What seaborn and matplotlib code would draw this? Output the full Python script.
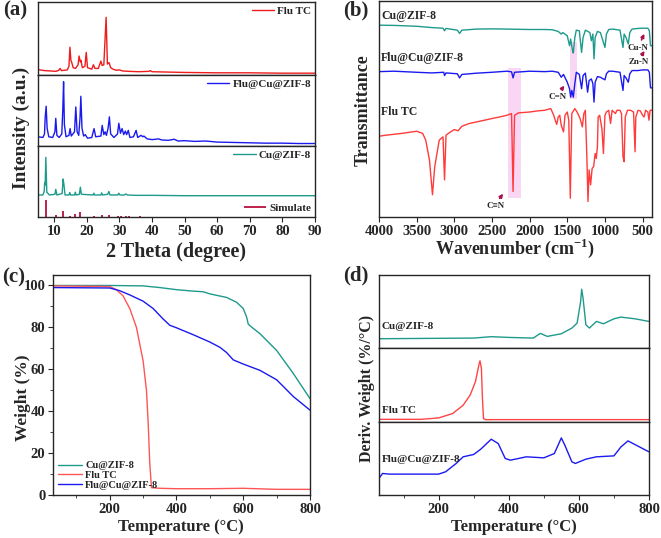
import matplotlib
matplotlib.use("Agg")
import matplotlib.pyplot as plt
import seaborn as sns
from matplotlib.ticker import MultipleLocator

# ---------------- data ----------------
# (a) XRD, intensities in fractions of each stacked panel
xrd_flu_x = [5.0, 7, 9, 10.5, 11.4, 11.8, 12.2, 14.0, 14.5, 14.8, 15.1, 15.3, 15.8, 16.5, 17.3, 17.6, 18.0,
             18.2, 18.6, 19.4, 19.8, 20.2, 21.5, 22.0, 22.5, 23.5, 24.3, 24.7, 25.2, 25.9, 26.3, 26.8, 27.3,
             28, 29, 30, 31, 33, 36, 39, 39.5, 40, 45, 50, 60, 70, 80, 90]
xrd_flu_y = [0.075, 0.06, 0.055, 0.05, 0.065, 0.09, 0.06, 0.07, 0.12, 0.38, 0.2, 0.18, 0.1, 0.09, 0.14, 0.26,
             0.18, 0.20, 0.1, 0.12, 0.31, 0.1, 0.08, 0.14, 0.09, 0.09, 0.19, 0.13, 0.14, 0.79, 0.15, 0.17, 0.1,
             0.08, 0.065, 0.07, 0.055, 0.05, 0.045, 0.05, 0.06, 0.045, 0.04, 0.035, 0.03, 0.03, 0.025, 0.025]

xrd_fcz_x = [5.0, 6.5, 7.0, 7.2, 7.5, 7.8, 8.3, 9.5, 10.2, 10.45, 10.8, 11.5, 12.3, 12.6, 12.85, 13.1, 13.6,
             14.5, 14.85, 15.2, 16.2, 16.6, 17.0, 17.5, 17.9, 18.15, 18.5, 19.0, 19.5, 20.2, 21.5, 22.2, 22.7,
             24.3, 24.7, 25.2, 25.6, 26.0, 26.5, 26.9, 27.3, 28.3, 29.4, 29.8, 30.3, 30.8, 31.3, 31.8, 32.2,
             32.7, 33.2, 34.3, 35.1, 35.6, 36.6, 37.2, 37.5, 38.5, 40, 42, 43, 45, 46.8, 48, 50, 53, 56.5, 60,
             65, 70, 75, 80, 85, 90]
xrd_fcz_y = [0.13, 0.12, 0.17, 0.4, 0.56, 0.25, 0.13, 0.12, 0.2, 0.39, 0.15, 0.12, 0.17, 0.5, 0.905, 0.3, 0.13,
             0.15, 0.245, 0.14, 0.2, 0.55, 0.2, 0.15, 0.4, 0.70, 0.25, 0.14, 0.16, 0.11, 0.12, 0.245, 0.13,
             0.14, 0.29, 0.16, 0.2, 0.15, 0.25, 0.41, 0.17, 0.12, 0.17, 0.32, 0.18, 0.245, 0.16, 0.21, 0.16,
             0.22, 0.12, 0.13, 0.22, 0.12, 0.15, 0.13, 0.14, 0.1, 0.09, 0.1, 0.085, 0.08, 0.095, 0.07, 0.075,
             0.065, 0.07, 0.055, 0.05, 0.045, 0.04, 0.04, 0.035, 0.035]

xrd_cz_x = [5.0, 6.5, 6.9, 7.05, 7.2, 7.4, 7.7, 8.5, 10.2, 10.45, 10.8, 12.4, 12.7, 12.95, 13.3, 14.5, 14.75,
            15.0, 16.2, 16.45, 16.7, 17.7, 18.0, 18.3, 21.9, 22.15, 22.4, 24.3, 24.55, 24.8, 26.4, 26.75, 27.1,
            29.5, 29.8, 30.1, 31.5, 32.0, 32.4, 35, 40, 50, 60, 70, 80, 90]
xrd_cz_y = [0.31, 0.31, 0.36, 0.48, 0.45, 0.84, 0.35, 0.31, 0.32, 0.39, 0.31, 0.33, 0.535, 0.46, 0.31, 0.31,
            0.345, 0.31, 0.31, 0.35, 0.31, 0.32, 0.42, 0.32, 0.31, 0.335, 0.31, 0.31, 0.34, 0.31, 0.32, 0.36,
            0.31, 0.31, 0.335, 0.31, 0.31, 0.325, 0.31, 0.305, 0.305, 0.30, 0.30, 0.30, 0.30, 0.30]

sim_x = [7.35, 10.4, 12.7, 14.7, 16.4, 18.0, 22.1, 24.5, 26.7, 29.6, 30.5, 31.9, 32.8, 36.2]
sim_y = [0.24, 0.03, 0.08, 0.02, 0.04, 0.065, 0.02, 0.025, 0.03, 0.02, 0.015, 0.02, 0.015, 0.01]

# (b) FTIR, transmittance in arbitrary units
ir_cz_x = [4000, 3800, 3500, 3300, 3150, 3130, 3110, 2960, 2930, 2900, 2700, 2500, 2300, 2000, 1800, 1700,
           1620, 1580, 1560, 1500, 1470, 1455, 1430, 1420, 1400, 1380, 1340, 1310, 1290, 1260, 1200, 1180,
           1160, 1145, 1130, 1100, 1060, 1000, 980, 950, 900, 800, 760, 745, 720, 690, 670, 640, 560, 500,
           430, 410, 395, 375]
ir_cz_y = [88.8, 88.7, 88.3, 87.7, 87.4, 86.2, 87.3, 86.5, 85.0, 86.5, 87.0, 87.1, 87.0, 86.8, 86.8, 86.7,
           85.9, 84.7, 85.4, 83.9, 79.3, 82.4, 77.0, 75.9, 83.1, 86.5, 86.2, 76.2, 83.1, 86.5, 85.4, 81.6,
           84.7, 73.2, 83.1, 85.9, 85.4, 78.5, 84.7, 86.8, 87.0, 86.5, 78.5, 84.7, 83.1, 80.1, 85.4, 87.0,
           87.3, 87.4, 87.4, 86.2, 79.3, 79.3]

ir_fcz_x = [4000, 3800, 3500, 3300, 3140, 3130, 3110, 2960, 2930, 2900, 2700, 2500, 2300, 2240, 2220, 2200,
            2000, 1800, 1700, 1620, 1580, 1550, 1500, 1470, 1455, 1440, 1420, 1400, 1380, 1340, 1310, 1290,
            1260, 1230, 1210, 1180, 1160, 1145, 1130, 1100, 1060, 1000, 980, 950, 900, 800, 760, 745, 720,
            690, 670, 640, 560, 500, 430, 410, 395, 375]
ir_fcz_y = [67.3, 67.5, 67.0, 66.7, 67.0, 65.5, 66.7, 66.3, 64.4, 66.0, 66.6, 67.0, 67.5, 67.2, 64.4, 67.0,
            67.5, 67.3, 67.5, 67.0, 64.7, 66.0, 62.4, 59.4, 55.5, 58.6, 55.5, 61.7, 67.0, 66.0, 59.4, 65.5,
            66.6, 57.8, 63.2, 63.9, 61.7, 53.2, 62.4, 65.0, 64.7, 63.5, 66.3, 67.5, 67.5, 67.0, 58.6, 65.5,
            64.4, 62.4, 66.3, 67.8, 67.8, 68.1, 68.1, 67.0, 59.8, 59.8]

ir_flu_x = [4000, 3900, 3700, 3500, 3420, 3380, 3330, 3290, 3260, 3200, 3150, 3130, 3110, 3050, 3000, 2950,
            2900, 2800, 2600, 2500, 2400, 2300, 2240, 2220, 2200, 2150, 2000, 1900, 1800, 1720, 1680, 1660,
            1640, 1620, 1600, 1580, 1550, 1530, 1500, 1480, 1460, 1440, 1400, 1370, 1330, 1300, 1280, 1260,
            1240, 1225, 1210, 1190, 1170, 1150, 1130, 1115, 1100, 1090, 1070, 1040, 1020, 1000, 980, 950,
            925, 905, 880, 860, 840, 800, 780, 760, 745, 730, 700, 660, 620, 600, 590, 560, 530, 500, 480,
            460, 430, 415, 400, 375]
ir_flu_y = [37.4, 37.9, 38.7, 39.7, 38.7, 35.6, 26.4, 10.3, 23.3, 35.6, 37.1, 17.2, 37.9, 39.4, 40.5, 39.9,
            42.0, 43.3, 44.8, 45.6, 46.3, 47.1, 47.9, 11.8, 47.1, 48.2, 48.6, 49.1, 49.4, 50.2, 47.1, 44.8,
            42.9, 46.3, 47.1, 42.5, 39.4, 47.1, 48.6, 44.8, 8.7, 47.9, 50.2, 48.6, 45.6, 41.7, 47.9, 49.4,
            27.9, 7.2, 21.8, 14.9, 22.5, 23.3, 29.4, 27.1, 32.5, 46.3, 47.1, 40.9, 29.4, 47.1, 48.6, 49.4,
            43.3, 49.4, 48.6, 47.9, 49.4, 49.4, 47.9, 27.9, 25.6, 46.3, 49.4, 49.4, 48.6, 30.2, 46.3, 49.4,
            49.1, 47.1, 46.3, 49.4, 48.6, 44.8, 49.4, 49.4]

band_cn3 = [2290, 2110]   # pink bands: wavenumber range
band_cn3_y = [9.0, 68.9]
band_cn2 = [1470, 1365]
band_cn2_y = [54.4, 80.8]

# (c) TGA
tga_cz_t = [30, 200, 300, 350, 400, 450, 480, 500, 520, 550, 580, 600, 610, 615, 630, 650, 700, 750, 800]
tga_cz_w = [100, 100, 99.8, 99, 98, 97.3, 97, 96, 95.3, 94.3, 92, 89, 85, 81.5, 79.5, 77, 69, 58, 46]
tga_flu_t = [30, 200, 220, 240, 260, 280, 300, 310, 315, 320, 325, 350, 400, 500, 600, 700, 800]
tga_flu_w = [99.8, 99.5, 98, 95, 89, 80, 64, 50, 35, 15, 3.5, 3.2, 3.0, 3.0, 3.2, 2.7, 2.7]
tga_fcz_t = [30, 200, 230, 260, 300, 330, 360, 380, 400, 450, 500, 530, 550, 570, 600, 650, 700, 750, 800]
tga_fcz_w = [99, 98.8, 97.5, 95.5, 92.5, 89, 84, 81, 79.8, 76.5, 73, 70.5, 68, 64.5, 62.5, 59.5, 55, 47, 40.5]

# (d) DTG, fractions of each stacked panel
dtg_cz_t = [30, 300, 350, 400, 470, 490, 510, 550, 580, 595, 605, 608, 612, 620, 630, 650, 670, 700, 720, 760, 800]
dtg_cz_y = [0.127, 0.136, 0.155, 0.145, 0.136, 0.2, 0.159, 0.195, 0.273, 0.341, 0.636, 0.805, 0.682, 0.318,
            0.273, 0.364, 0.332, 0.4, 0.423, 0.4, 0.364]
dtg_flu_t = [30, 150, 200, 240, 270, 290, 305, 315, 318, 322, 325, 328, 335, 800]
dtg_flu_y = [0.036, 0.036, 0.055, 0.114, 0.227, 0.364, 0.545, 0.773, 0.827, 0.727, 0.318, 0.045, 0.032, 0.032]
dtg_fcz_t = [30, 40, 60, 200, 220, 250, 270, 300, 320, 350, 370, 390, 405, 450, 500, 530, 550, 560, 580, 590,
             620, 650, 700, 720, 740, 760, 800]
dtg_fcz_y = [0.227, 0.295, 0.286, 0.286, 0.318, 0.432, 0.523, 0.555, 0.627, 0.764, 0.705, 0.5, 0.477, 0.523,
             0.509, 0.568, 0.782, 0.682, 0.455, 0.432, 0.491, 0.523, 0.536, 0.659, 0.741, 0.691, 0.591]

# ---------------- style ----------------
sns.set_style("ticks")
plt.rcParams["font.family"] = ["Liberation Serif", "DejaVu Serif"]
plt.rcParams["font.weight"] = "bold"
plt.rcParams["axes.labelweight"] = "bold"
plt.rcParams["mathtext.fontset"] = "custom"
plt.rcParams["mathtext.rm"] = "Liberation Serif:bold"
plt.rcParams["mathtext.bf"] = "Liberation Serif:bold"
plt.rcParams["axes.linewidth"] = 1.0
plt.rcParams["xtick.major.size"] = 3.5
plt.rcParams["ytick.major.size"] = 3.5
plt.rcParams["xtick.minor.size"] = 2.5
plt.rcParams["ytick.minor.size"] = 2.5

TEAL = "#1E9A8C"
BLUE = "#1A1AF0"
RED = "#EE1C1C"
LRED = "#FF5555"

W, H = 661, 538
fig = plt.figure(figsize=(W / 100, H / 100), dpi=100)


def box(l, t, r, b):
    return [l / W, 1 - b / H, (r - l) / W, (b - t) / H]


def curve(ax, x, y, color, label=None, lw=1.0):
    sns.lineplot(x=x, y=y, ax=ax, color=color, lw=lw, label=label,
                 estimator=None, sort=False, legend=False)


TICK_FS = 10.5
TXT_FS = 8

# ---------------- (a) XRD ----------------
a1 = fig.add_axes(box(38, 2, 315, 75))
a2 = fig.add_axes(box(38, 75, 315, 146))
a3 = fig.add_axes(box(38, 146, 315, 217))
curve(a1, xrd_flu_x, xrd_flu_y, RED, "Flu TC")
curve(a2, xrd_fcz_x, xrd_fcz_y, BLUE, "Flu@Cu@ZIF-8")
curve(a3, xrd_cz_x, xrd_cz_y, TEAL, "Cu@ZIF-8")
sim = a3.vlines(sim_x, 0, sim_y, color="#B8103E", lw=1.3, label="Simulate")
for ax in (a1, a2, a3):
    ax.set_xlim(5, 90)
    ax.set_ylim(0, 1)
    ax.set_yticks([])
    ax.set_xlabel("")
    ax.set_ylabel("")
for ax in (a1, a2):
    ax.set_xticks([])
a3.set_xticks(range(10, 91, 10))
a3.tick_params(labelsize=TICK_FS, pad=2)
leg_kw = dict(frameon=False, fontsize=TXT_FS, handlelength=2.0, handletextpad=0.3, borderaxespad=0.15,
              borderpad=0.2)
a1.legend(loc="upper right", **leg_kw)
a2.legend(loc="upper right", **leg_kw)
lg = a3.legend(handles=a3.get_lines()[:1], loc="upper right", **leg_kw)
a3.add_artist(lg)
a3.legend(handles=[sim], loc="lower right", **leg_kw)
fig.text(176 / W, 1 - 252 / H, "2 Theta (degree)", fontsize=14.5, ha="center", va="center", fontweight="bold")
fig.text(21 / W, 1 - 128 / H, "Intensity (a.u.)", fontsize=14, rotation=90, ha="center", va="center",
         fontweight="bold")

# ---------------- (b) FTIR ----------------
b = fig.add_axes(box(379, 1, 652, 217))
b.axvspan(band_cn3[0], band_cn3[1], ymin=band_cn3_y[0] / 100, ymax=band_cn3_y[1] / 100,
          color="#F8D6F4", lw=0, zorder=0)
b.axvspan(band_cn2[0], band_cn2[1], ymin=band_cn2_y[0] / 100, ymax=band_cn2_y[1] / 100,
          color="#F8D6F4", lw=0, zorder=0)
curve(b, ir_cz_x, ir_cz_y, TEAL)
curve(b, ir_fcz_x, ir_fcz_y, BLUE)
curve(b, ir_flu_x, ir_flu_y, "#FF3B3B")
b.set_xlim(4000, 375)
b.set_ylim(0, 100)
b.set_yticks([])
b.set_xticks(range(4000, 499, -500))
b.tick_params(labelsize=TICK_FS, pad=2)
b.set_xlabel("")
b.set_ylabel("")
b.text(3970, 93.1, "Cu@ZIF-8", fontsize=8.5, va="center", fontweight="bold")
b.text(3970, 73.6, "Flu@Cu@ZIF-8", fontsize=8.5, va="center", fontweight="bold")
b.text(3970, 48.6, "Flu TC", fontsize=8.5, va="center", fontweight="bold")
arrow_kw = dict(arrowstyle="-|>", color="#A8124C", lw=1.2, mutation_scale=5)
notes = [("Cu-N", 567, 78.2, (530, 80.8), (462, 86.0)),
         ("Zn-N", 545, 71.9, (530, 73.8), (455, 78.0)),
         ("C=N", 1634, 55.5, (1600, 58.0), (1515, 61.8)),
         ("C\u2261N", 2448, 4.9, (2420, 7.6), (2330, 11.8))]
for txt, tx, ty, tail, head in notes:
    b.text(tx, ty, txt, fontsize=6.5, ha="center", va="center", fontweight="bold")
    b.annotate("", xy=head, xytext=tail, arrowprops=arrow_kw)
fig.text(515 / W, 1 - 248 / H, r"Wavenumber (cm$^{-1}$)", fontsize=13, ha="center", va="center",
         fontweight="bold")
fig.text(363 / W, 1 - 110 / H, "Transmittance", fontsize=13, rotation=90, ha="center", va="center",
         fontweight="bold")

# ---------------- (c) TGA ----------------
c = fig.add_axes(box(53, 275, 310, 495))
curve(c, tga_cz_t, tga_cz_w, TEAL, "Cu@ZIF-8")
curve(c, tga_flu_t, tga_flu_w, LRED, "Flu TC")
curve(c, tga_fcz_t, tga_fcz_w, BLUE, "Flu@Cu@ZIF-8")
c.set_xlim(30, 800)
c.set_ylim(0, 105)
c.set_xticks([200, 400, 600, 800])
c.set_yticks(range(0, 101, 20))
c.xaxis.set_minor_locator(MultipleLocator(100))
c.yaxis.set_minor_locator(MultipleLocator(10))
c.tick_params(labelsize=TICK_FS, pad=2)
c.tick_params(which="minor", length=2.5)
c.set_xlabel("")
c.set_ylabel("")
c.legend(loc="lower left", frameon=False, fontsize=7.5, handlelength=2.3, handletextpad=0.3,
         labelspacing=0.05, borderaxespad=0.3, borderpad=0.2)
fig.text(181 / W, 1 - 527 / H, "Temperature (\u00b0C)", fontsize=12, ha="center", va="center",
         fontweight="bold")
fig.text(23 / W, 1 - 398 / H, "Weight (%)", fontsize=12.5, rotation=90, ha="center", va="center",
         fontweight="bold")

# ---------------- (d) DTG ----------------
d1 = fig.add_axes(box(379, 275, 649, 348))
d2 = fig.add_axes(box(379, 348, 649, 422))
d3 = fig.add_axes(box(379, 422, 649, 495))
curve(d1, dtg_cz_t, dtg_cz_y, TEAL)
curve(d2, dtg_flu_t, dtg_flu_y, "#FF4545")
curve(d3, dtg_fcz_t, dtg_fcz_y, BLUE)
for ax, lab, yy in ((d1, "Cu@ZIF-8", 0.29), (d2, "Flu TC", 0.16), (d3, "Flu@Cu@ZIF-8", 0.48)):
    ax.set_xlim(30, 800)
    ax.set_ylim(0, 1)
    ax.set_yticks([])
    ax.set_xlabel("")
    ax.set_ylabel("")
    ax.text(0.01, yy, lab, transform=ax.transAxes, fontsize=8, va="center", fontweight="bold")
for ax in (d1, d2):
    ax.set_xticks([])
d3.set_xticks([200, 400, 600, 800])
d3.xaxis.set_minor_locator(MultipleLocator(100))
d3.tick_params(labelsize=TICK_FS, pad=2)
d3.tick_params(which="minor", length=2.5)
fig.text(514 / W, 1 - 527 / H, "Temperature (\u00b0C)", fontsize=12, ha="center", va="center",
         fontweight="bold")
fig.text(367 / W, 1 - 388 / H, "Deriv. Weight (%/\u00b0C)", fontsize=11.5, rotation=90, ha="center",
         va="center", fontweight="bold")

# panel labels
for x, y, t in ((3, 10, "(a)"), (343, 10, "(b)"), (2, 277, "(c)"), (343, 275, "(d)")):
    fig.text(x / W, 1 - y / H, t, fontsize=15, ha="left", va="center", fontweight="bold")

fig.savefig("out.png", dpi=100)
